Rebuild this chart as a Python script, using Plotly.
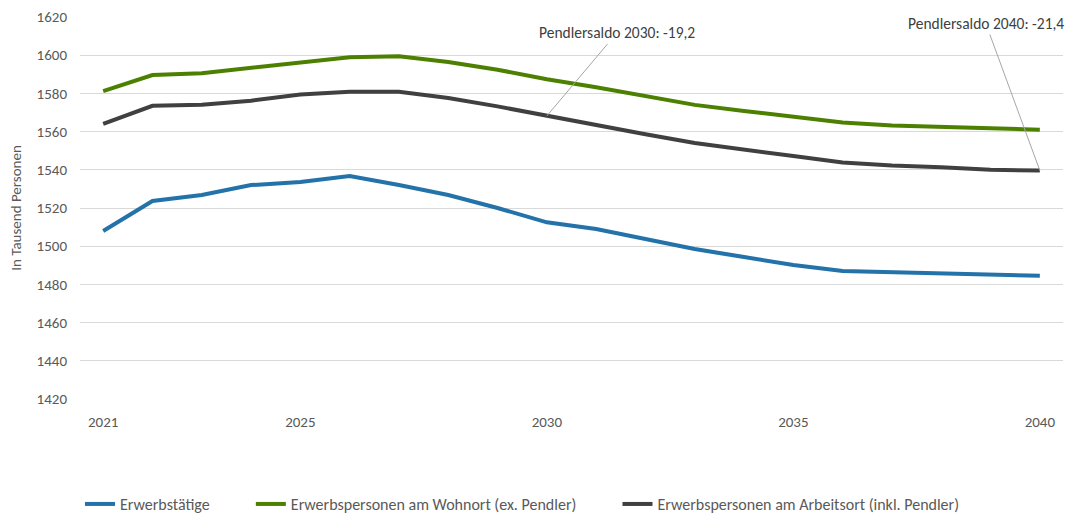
import plotly.graph_objects as go

years = list(range(2021, 2041))

erwerbstaetige = [1508.0, 1523.7, 1526.8, 1532.0, 1533.6, 1536.8, 1532.0, 1526.8, 1520.0, 1512.5,
                  1509.0, 1503.8, 1498.5, 1494.3, 1490.2, 1487.0, 1486.5, 1486.0, 1485.5, 1484.5]
wohnort = [1581.2, 1589.6, 1590.6, 1593.3, 1596.4, 1598.9, 1599.5, 1596.4, 1592.4, 1587.4,
           1583.2, 1578.6, 1574.0, 1570.8, 1568.0, 1564.8, 1563.2, 1562.7, 1561.8, 1561.0]
arbeitsort = [1564.0, 1573.5, 1574.0, 1576.2, 1579.4, 1580.8, 1580.8, 1577.6, 1573.2, 1568.2,
              1563.2, 1558.6, 1554.0, 1550.4, 1547.2, 1543.8, 1542.3, 1541.4, 1540.0, 1539.6]

names = ["Erwerbstätige", "Erwerbspersonen am Wohnort (ex. Pendler)",
         "Erwerbspersonen am Arbeitsort (inkl. Pendler)"]
colors = ["#2372A9", "#4C8000", "#404040"]
series = [erwerbstaetige, wohnort, arbeitsort]

tick_years = [2021, 2025, 2030, 2035, 2040]
y_ticks = list(range(1420, 1621, 20))

annot_years = [2030, 2040]
annot_texts = ["Pendlersaldo 2030: -19,2", "Pendlersaldo 2040: -21,4"]
annot_offsets = [(70, -83), (-54, -147)]

font_family = "Carlito, Calibri, Lato, sans-serif"
pad = "\u00a0" * 10

fig = go.Figure()
for i, (name, vals, col) in enumerate(zip(names, series, colors)):
    label = name + (pad if i < len(names) - 1 else "")
    fig.add_trace(go.Scatter(x=years, y=vals, mode="lines", name=label,
                             line=dict(color=col, width=4)))

for yr, txt, (ax, ay) in zip(annot_years, annot_texts, annot_offsets):
    idx = years.index(yr)
    fig.add_annotation(x=yr, y=arbeitsort[idx], text=txt, showarrow=True,
                       arrowhead=0, arrowwidth=1, arrowcolor="#A6A6A6",
                       ax=ax, ay=ay, font=dict(size=15.5, color="#404040", family=font_family))

fig.update_layout(
    width=1073, height=513,
    margin=dict(l=80, r=10, t=17, b=114, autoexpand=False),
    paper_bgcolor="white", plot_bgcolor="white",
    font=dict(family=font_family, size=15, color="#595959"),
    showlegend=True,
    legend=dict(orientation="h", x=0.0, xanchor="left", y=-0.275, yanchor="middle",
                font=dict(size=16, color="#595959"), itemwidth=30),
    xaxis=dict(range=[2020.53, 2040.47], tickvals=tick_years, ticktext=[str(t) for t in tick_years],
               showgrid=False, zeroline=False, showline=False, ticks="", ticklabelstandoff=12,
               tickfont=dict(size=15, color="#595959")),
    yaxis=dict(range=[1420, 1620], tickvals=y_ticks, showgrid=True, gridcolor="#D9D9D9",
               gridwidth=1, zeroline=False, showline=False, ticks="", ticklabelstandoff=12,
               title=dict(text="In Tausend Personen", font=dict(size=15, color="#595959"), standoff=11),
               tickfont=dict(size=15, color="#595959")),
)

fig.write_html("out.html", config={"displayModeBar": False},
               post_script="document.body.style.margin='0';")
